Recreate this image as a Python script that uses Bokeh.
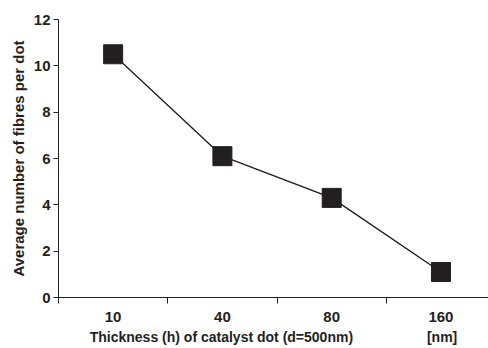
from bokeh.plotting import figure
from bokeh.models import Range1d, FixedTicker
from bokeh.embed import file_html
from bokeh.resources import INLINE

categories = ["10", "40", "80", "160"]
fibres = [10.5, 6.1, 4.3, 1.1]
positions = [0.5, 1.5, 2.5, 3.5]
boundaries = [0, 1, 2, 3]
y_ticks = [0, 2, 4, 6, 8, 10, 12]

p = figure(width=488, height=348, output_backend="svg", toolbar_location=None,
           x_range=Range1d(0, 3.935), y_range=Range1d(0, 12),
           min_border_left=58, min_border_right=0, min_border_top=19, min_border_bottom=51)
p.outline_line_color = None
p.grid.visible = False
p.background_fill_color = "white"

p.line(positions, fibres, line_color="#1a1a1a", line_width=1.3)
p.scatter(positions, fibres, marker="square", size=19, fill_color="#231f20", line_color="#231f20")

font = "Liberation Sans"
xa = p.xaxis[0]
xa.ticker = FixedTicker(ticks=positions, minor_ticks=boundaries)
xa.major_label_overrides = {pos: c for pos, c in zip(positions, categories)}
xa.minor_tick_out = 6
xa.minor_tick_in = 0
xa.minor_tick_line_color = "#231f20"
xa.axis_label = "Thickness (h) of catalyst dot (d=500nm)" + "\u00a0" * 19 + "[nm]"

ya = p.yaxis[0]
ya.ticker = FixedTicker(ticks=y_ticks)
ya.minor_tick_line_color = None
ya.major_tick_out = 5
ya.major_tick_in = 0
ya.axis_label = "Average number of fibres per dot"

for ax in (xa, ya):
    ax.axis_line_color = "#231f20"
    ax.major_label_text_font = font
    ax.major_label_text_font_style = "bold"
    ax.major_label_text_font_size = "15px"
    ax.major_label_text_color = "#231f20"
    ax.axis_label_text_font = font
    ax.axis_label_text_font_style = "bold"
    ax.axis_label_text_color = "#231f20"
    ax.axis_label_standoff = 4
xa.major_tick_line_color = None
xa.major_label_standoff = 8
ya.major_tick_line_color = "#231f20"
ya.major_label_standoff = 3
xa.axis_label_text_font_size = "14px"
ya.axis_label_text_font_size = "15px"

open("out.html", "w").write(file_html(p, INLINE))
